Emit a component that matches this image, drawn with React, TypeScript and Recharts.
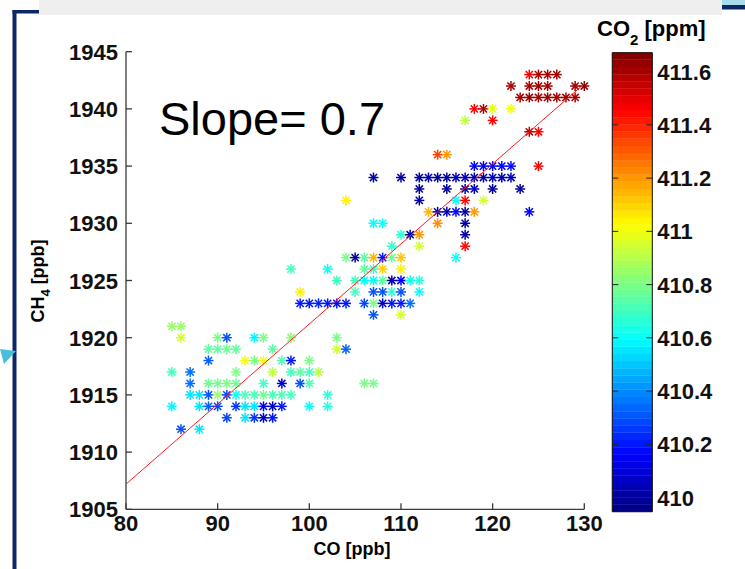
import React from "react";
import { ScatterChart, Scatter, XAxis, YAxis, ReferenceArea } from "recharts";

// CH4 level of each row of points, the CO values in it and the CO2 colour value of each
const ROW_CH4 = [1943, 1942, 1941, 1940, 1939, 1938, 1936, 1935, 1934, 1933, 1932, 1931, 1930, 1929, 1928, 1927,
  1926, 1925, 1924, 1923, 1922, 1921, 1920, 1919, 1918, 1917, 1916, 1915, 1914, 1913, 1912];

const ROW_CO = [
  [124, 125, 126, 127],
  [122, 124, 125, 126, 129, 130],
  [123, 124, 125, 126, 127, 128, 129],
  [118, 119, 120, 122],
  [117, 120],
  [124, 125],
  [114, 115],
  [118, 119, 120, 121, 122, 125],
  [107, 110, 112, 113, 114, 115, 116, 117, 118, 119, 120, 121, 122],
  [112, 115, 117, 118, 120, 123],
  [104, 112, 116, 117, 119],
  [113, 114, 115, 116, 117, 118, 124],
  [107, 108, 114, 117],
  [110, 111, 112, 117],
  [109, 112, 117],
  [104, 105, 106, 107, 108, 109, 110, 116],
  [98, 102, 106, 107, 108, 110],
  [103, 105, 106, 107, 108, 109, 110, 111, 112],
  [99, 105, 107, 108, 109, 110, 112],
  [99, 100, 101, 102, 103, 104, 106, 107, 108, 109, 110, 111],
  [107, 110],
  [85, 86],
  [86, 90, 91, 94, 95, 98, 103],
  [89, 90, 91, 92, 96, 103, 104],
  [89, 93, 94, 95, 97, 98, 100],
  [85, 87, 92, 96, 98, 99, 100, 101],
  [87, 89, 90, 91, 92, 95, 97, 99, 100, 106, 107],
  [87, 88, 89, 90, 91, 92, 93, 94, 95, 96, 97, 98, 102],
  [85, 88, 89, 90, 92, 93, 94, 95, 96, 97, 100, 102],
  [91, 93, 94, 95, 96],
  [86, 88],
];

const ROW_CO2 = [
  [411.45, 411.6, 411.6, 411.62],
  [411.6, 411.6, 411.62, 411.6, 411.62, 411.65],
  [411.6, 411.62, 411.6, 411.62, 411.6, 411.62, 411.6],
  [411.45, 411.58, 410.98, 411.0],
  [410.92, 411.45],
  [411.58, 411.45],
  [411.35, 411.2],
  [410.15, 410.15, 410.15, 410.15, 410.18, 411.45],
  [410.0, 410.0, 410.0, 410.03, 410.0, 410.0, 410.05, 410.05, 410.03, 410.0, 410.05, 410.03, 410.05],
  [410.0, 410.0, 410.0, 410.05, 410.0, 410.0],
  [411.05, 410.0, 410.6, 411.45, 410.95],
  [411.15, 410.03, 410.03, 410.15, 410.0, 411.2, 410.15],
  [410.6, 410.62, 411.22, 410.0],
  [410.68, 410.0, 411.2, 410.0],
  [410.68, 410.95, 411.45],
  [410.8, 410.0, 410.75, 411.15, 410.2, 410.78, 411.12, 410.6],
  [410.7, 410.62, 410.75, 410.7, 411.1, 411.05],
  [410.7, 410.7, 410.6, 410.6, 410.75, 410.02, 410.15, 410.62, 410.66],
  [411.05, 410.7, 410.3, 410.3, 410.66, 410.3, 410.6],
  [410.2, 410.2, 410.22, 410.2, 410.18, 410.2, 410.28, 410.8, 410.06, 410.2, 410.2, 410.35],
  [410.3, 410.95],
  [410.85, 410.85],
  [410.95, 410.8, 410.3, 410.58, 410.8, 410.82, 410.8],
  [410.75, 410.75, 410.78, 410.75, 410.75, 410.95, 410.32],
  [410.32, 411.0, 410.8, 411.0, 410.72, 410.2, 410.8],
  [410.7, 410.35, 410.8, 410.92, 410.7, 410.75, 410.7, 410.9],
  [410.35, 410.78, 410.78, 410.8, 410.78, 410.7, 410.06, 410.3, 410.72, 410.8, 410.8],
  [410.55, 410.55, 410.3, 410.85, 410.28, 410.6, 410.72, 410.72, 410.78, 410.72, 410.72, 410.7, 410.66],
  [410.58, 410.55, 410.32, 410.28, 410.25, 410.55, 410.55, 410.1, 410.06, 410.2, 410.6, 410.65],
  [410.28, 410.55, 410.25, 410.06, 410.2],
  [410.3, 410.55],
];

const X_TICKS = [80, 90, 100, 110, 120, 130];
const Y_TICKS = [1905, 1910, 1915, 1920, 1925, 1930, 1935, 1940, 1945];
const CB_TICKS = [410, 410.2, 410.4, 410.6, 410.8, 411, 411.2, 411.4, 411.6];
const CB_MIN = 409.947;
const CB_MAX = 411.671;

// fitted line CH4 = 0.7 * CO + b
const FIT_SLOPE = 0.7;
const FIT_INTERCEPT = 1851.2;
const FIT_CO = [80, 130];

const W = 745;
const H = 569;
const FONT = '"Liberation Sans", Arial, Helvetica, sans-serif';
const AX = "#3a3a3a";
const NAVY = "#0c2766";

// plot box and colorbar box, page pixels
const PL = 126, PR = 584.3, PT = 51.7, PB = 509.3;
const CBL = 612.3, CBR = 652.3, CBT = 52.7, CBB = 511.7;
const AXW = 40; // room kept for axis components

function jet(v: number) {
  const t = Math.min(1, Math.max(0, (v - CB_MIN) / (CB_MAX - CB_MIN)));
  const f = (k: number) => Math.round(255 * Math.min(1, Math.max(0, 1.5 - Math.abs(4 * t - k))));
  return `rgb(${f(3)},${f(2)},${f(1)})`;
}

const POINTS = ROW_CH4.flatMap((ch4, i) => ROW_CO[i].map((co, j) => ({ co, ch4, co2: ROW_CO2[i][j] })));
const FIT = FIT_CO.map((co) => ({ co, ch4: FIT_SLOPE * co + FIT_INTERCEPT }));

// matlab jet(64) bands for the colorbar
const BANDS = Array.from({ length: 64 }, (_, i) => {
  const lo = CB_MIN + ((CB_MAX - CB_MIN) * i) / 64;
  const hi = CB_MIN + ((CB_MAX - CB_MIN) * (i + 1)) / 64;
  return { lo, hi, mid: (lo + hi) / 2, x: 0.5, color: jet((lo + hi) / 2) };
});

function Asterisk(p: any) {
  const { cx, cy, payload } = p;
  if (cx == null || cy == null) return <g />;
  const c = jet(payload.co2);
  const r = 5, d = 3.6;
  return (
    <g stroke={c} strokeWidth={1.5}>
      <line x1={cx - r} y1={cy} x2={cx + r} y2={cy} />
      <line x1={cx} y1={cy - r} x2={cx} y2={cy + r} />
      <line x1={cx - d} y1={cy - d} x2={cx + d} y2={cy + d} />
      <line x1={cx - d} y1={cy + d} x2={cx + d} y2={cy - d} />
    </g>
  );
}

const tickText = { fontFamily: FONT, fontSize: 22, fontWeight: 700, fill: "#111" };

function XTick(p: any) {
  const { x, y, payload } = p;
  return (
    <g>
      <line x1={x} x2={x} y1={y} y2={y - 6} stroke={AX} strokeWidth={1.3} />
      <text x={x} y={y + 22} textAnchor="middle" {...tickText}>{payload.value}</text>
    </g>
  );
}

function YTick(p: any) {
  const { x, y, payload } = p;
  return (
    <g>
      <line x1={x} x2={x + 6} y1={y} y2={y} stroke={AX} strokeWidth={1.3} />
      <text x={x - 8} y={y + 8} textAnchor="end" {...tickText}>{payload.value}</text>
    </g>
  );
}

function CbTick(p: any) {
  const { x, y, payload } = p;
  const w = CBR - CBL;
  return (
    <g>
      <line x1={x} x2={x - 6} y1={y} y2={y} stroke="#222" strokeWidth={1} />
      <line x1={x - w} x2={x - w + 6} y1={y} y2={y} stroke="#222" strokeWidth={1} />
      <text x={x + 5} y={y + 8} textAnchor="start" {...tickText}>{payload.value}</text>
    </g>
  );
}

export default function App() {
  return (
    <div style={{ position: "absolute", left: 0, top: 0, width: W, height: H, background: "#fff", overflow: "hidden" }}>
      <div style={{ position: "absolute", left: 0, top: 0 }}>
        <ScatterChart width={W} height={H} margin={{ left: PL - AXW, right: W - PR, top: PT, bottom: H - PB - AXW }}>
          <XAxis type="number" dataKey="co" domain={[80, 130]} ticks={X_TICKS} interval={0} height={AXW}
            tickSize={0} tickMargin={0} tickLine={false} axisLine={{ stroke: AX, strokeWidth: 1.3 }} tick={XTick} />
          <YAxis type="number" dataKey="ch4" domain={[1905, 1945]} ticks={Y_TICKS} interval={0} width={AXW}
            tickSize={0} tickMargin={0} tickLine={false} axisLine={{ stroke: AX, strokeWidth: 1.3 }} tick={YTick} />
          <Scatter data={POINTS} shape={Asterisk} isAnimationActive={false} />
          <Scatter data={FIT} line={{ stroke: "#ff1a1a", strokeWidth: 1 }} shape={() => <g />} isAnimationActive={false} />
        </ScatterChart>
      </div>
      <div style={{ position: "absolute", left: 0, top: 0 }}>
        <ScatterChart width={W} height={H} margin={{ left: CBL, right: W - CBR - AXW, top: CBT, bottom: H - CBB }}>
          <XAxis type="number" dataKey="x" domain={[0, 1]} hide />
          <YAxis type="number" dataKey="mid" orientation="right" domain={[CB_MIN, CB_MAX]} ticks={CB_TICKS} interval={0}
            width={AXW} tickSize={0} tickMargin={0} tickLine={false} axisLine={false} tick={CbTick} allowDataOverflow />
          {BANDS.map((b, i) => (
            <ReferenceArea key={i} x1={0} x2={1} y1={b.lo} y2={b.hi} fill={b.color} fillOpacity={1}
              stroke={b.color} strokeWidth={0.4} ifOverflow="visible" />
          ))}
          <ReferenceArea x1={0} x2={1} y1={CB_MIN} y2={CB_MAX} fill="none" stroke="#111" strokeWidth={1} ifOverflow="visible" />
          <Scatter data={BANDS} shape={() => <g />} isAnimationActive={false} />
        </ScatterChart>
      </div>
      <svg width={W} height={H} style={{ position: "absolute", left: 0, top: 0, pointerEvents: "none" }}>
        <rect x={39} y={0} width={683} height={15} fill="#efefef" />
        <rect x={722} y={0} width={23} height={5} fill="#a8dce8" />
        <rect x={722} y={5} width={23} height={4.5} fill={NAVY} />
        <rect x={12.5} y={10} width={4} height={H - 10} fill={NAVY} />
        <rect x={12.5} y={10} width={26.5} height={3.5} fill={NAVY} />
        <polygon points="0,349 16,351 4,364" fill="#45bfdc" />
        <text x={159} y={135} fontFamily={FONT} fontSize={47} fill="#000">Slope= 0.7</text>
        <text x={352} y={555} textAnchor="middle" fontFamily={FONT} fontSize={18} fontWeight={700} fill="#000">CO [ppb]</text>
        <text transform="translate(44,281) rotate(-90)" textAnchor="middle" fontFamily={FONT} fontSize={18} fontWeight={700} fill="#000">
          CH<tspan dy={6} fontSize={13}>4</tspan><tspan dy={-6}> [ppb]</tspan>
        </text>
        <text x={597} y={36} fontFamily={FONT} fontSize={22} fontWeight={700} fill="#000">
          CO<tspan dy={9} fontSize={15}>2</tspan><tspan dy={-9}> [ppm]</tspan>
        </text>
      </svg>
    </div>
  );
}
